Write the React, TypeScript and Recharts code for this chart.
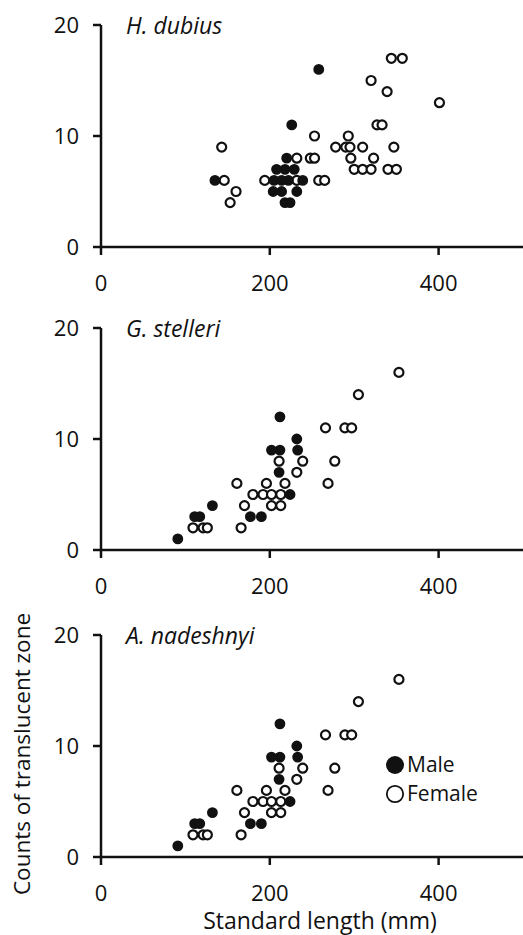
import { Scatter, ScatterChart, XAxis, YAxis, ZAxis } from "recharts";

// [standard length (mm), counts of translucent zone]
const dubiusMale: [number, number][] = [
  [135, 6], [258, 16], [226, 11], [220, 8], [208, 7], [218, 7], [229, 7], [205, 6], [214, 6],
  [222, 6], [239, 6], [204, 5], [214, 5], [232, 5], [218, 4], [224, 4],
];
const dubiusFemale: [number, number][] = [
  [143, 9], [146, 6], [160, 5], [153, 4], [194, 6], [232, 6], [258, 6], [265, 6], [232, 8],
  [248, 8], [253, 8], [296, 8], [323, 8], [253, 10], [293, 10], [278, 9], [290, 9], [295, 9],
  [310, 9], [347, 9], [300, 7], [310, 7], [320, 7], [340, 7], [350, 7], [327, 11], [333, 11],
  [401, 13], [339, 14], [320, 15], [344, 17], [357, 17],
];

const stelleriMale: [number, number][] = [
  [91, 1], [111, 3], [117, 3], [132, 4], [177, 3], [190, 3], [224, 5], [211, 7], [202, 9],
  [212, 9], [233, 9], [232, 10], [212, 12],
];
const stelleriFemale: [number, number][] = [
  [109, 2], [121, 2], [126, 2], [166, 2], [161, 6], [170, 4], [180, 5], [192, 5], [202, 5],
  [213, 5], [196, 6], [218, 6], [202, 4], [213, 4], [211, 8], [239, 8], [232, 7], [269, 6],
  [277, 8], [266, 11], [289, 11], [297, 11], [305, 14], [353, 16],
];

const nadeshnyiMale: [number, number][] = [
  [91, 1], [111, 3], [117, 3], [132, 4], [177, 3], [190, 3], [224, 5], [211, 7], [202, 9],
  [212, 9], [233, 9], [232, 10], [212, 12],
];
const nadeshnyiFemale: [number, number][] = [
  [109, 2], [121, 2], [126, 2], [166, 2], [161, 6], [170, 4], [180, 5], [192, 5], [202, 5],
  [213, 5], [196, 6], [218, 6], [202, 4], [213, 4], [211, 8], [239, 8], [232, 7], [269, 6],
  [277, 8], [266, 11], [289, 11], [297, 11], [305, 14], [353, 16],
];

const xTicks = [0, 200, 400];
const yTicks = [0, 10, 20];

const FONT = "'Open Sans', sans-serif";
const INK = "#111";

const toPoints = (rows: [number, number][]) => rows.map(([x, y]) => ({ x, y }));

function Panel({
  top,
  height,
  title,
  male,
  female,
}: {
  top: number;
  height: number;
  title: string;
  male: [number, number][];
  female: [number, number][];
}) {
  const tick = { fontFamily: FONT, fontSize: 22, fill: INK };
  return (
    <div style={{ position: "absolute", left: 0, top, width: 523, height }}>
      <ScatterChart width={523} height={height} margin={{ top: 25, right: 0, bottom: 0, left: 0 }}>
        <XAxis
          type="number"
          dataKey="x"
          domain={[0, 500]}
          ticks={xTicks}
          height={height - 247}
          tick={tick}
          tickSize={8}
          tickMargin={20}
          axisLine={{ stroke: INK, strokeWidth: 2.5 }}
          tickLine={{ stroke: INK, strokeWidth: 2.5 }}
        />
        <YAxis
          type="number"
          dataKey="y"
          domain={[0, 20]}
          ticks={yTicks}
          width={101}
          tick={tick}
          tickSize={8}
          tickMargin={14}
          axisLine={{ stroke: INK, strokeWidth: 2.5 }}
          tickLine={{ stroke: INK, strokeWidth: 2.5 }}
        />
        <ZAxis range={[80, 80]} />
        <Scatter data={toPoints(female)} fill="#fff" stroke={INK} strokeWidth={2.2} isAnimationActive={false} />
        <Scatter data={toPoints(male)} fill={INK} stroke={INK} strokeWidth={1.8} isAnimationActive={false} />
      </ScatterChart>
      <div
        style={{
          position: "absolute",
          left: 126,
          top: 12,
          fontFamily: FONT,
          fontStyle: "italic",
          fontSize: 23,
          lineHeight: "26px",
          color: INK,
        }}
      >
        {title}
      </div>
    </div>
  );
}

export default function App() {
  return (
    <div style={{ position: "absolute", left: 0, top: 0, width: 523, height: 935, background: "#fff" }}>
      <Panel top={0} height={300} title="H. dubius" male={dubiusMale} female={dubiusFemale} />
      <Panel top={303} height={300} title="G. stelleri" male={stelleriMale} female={stelleriFemale} />
      <Panel top={610} height={300} title="A. nadeshnyi" male={nadeshnyiMale} female={nadeshnyiFemale} />

      <div
        style={{
          position: "absolute",
          left: 385,
          top: 750,
          fontFamily: FONT,
          fontSize: 21,
          color: INK,
          lineHeight: "29px",
        }}
      >
        <div style={{ display: "flex", alignItems: "center" }}>
          <svg width={20} height={20} style={{ marginRight: 2 }}>
            <circle cx={10} cy={10} r={9} fill={INK} />
          </svg>
          Male
        </div>
        <div style={{ display: "flex", alignItems: "center" }}>
          <svg width={20} height={20} style={{ marginRight: 2 }}>
            <circle cx={10} cy={10} r={8.2} fill="#fff" stroke={INK} strokeWidth={1.8} />
          </svg>
          Female
        </div>
      </div>

      <div
        style={{
          position: "absolute",
          left: 320,
          top: 907,
          transform: "translateX(-50%)",
          whiteSpace: "nowrap",
          fontFamily: FONT,
          fontSize: 23,
          lineHeight: "26px",
          color: INK,
        }}
      >
        Standard length (mm)
      </div>
      <div
        style={{
          position: "absolute",
          left: 22,
          top: 754,
          transform: "translate(-50%, -50%) rotate(-90deg)",
          whiteSpace: "nowrap",
          fontFamily: FONT,
          fontSize: 22.5,
          lineHeight: "26px",
          color: INK,
        }}
      >
        Counts of translucent zone
      </div>
    </div>
  );
}
